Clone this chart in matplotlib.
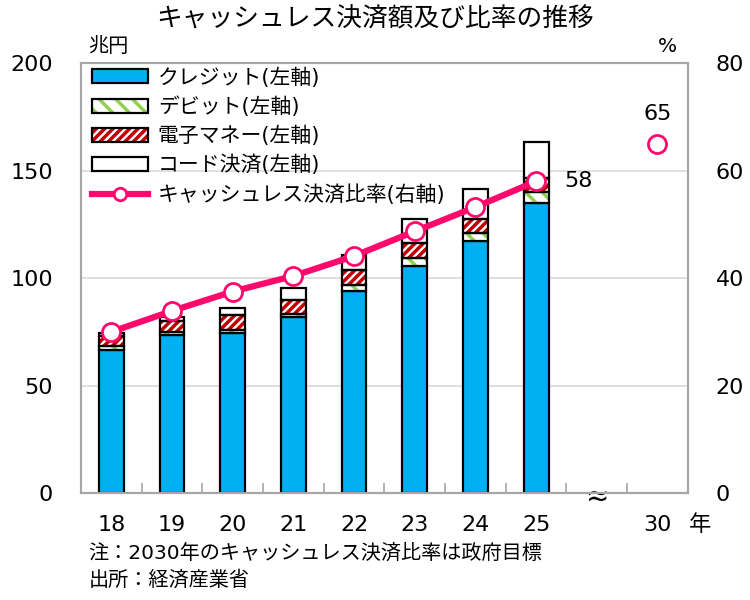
import matplotlib
matplotlib.use('Agg')
import matplotlib.pyplot as plt
import numpy as np
from matplotlib.patches import Patch
from matplotlib.lines import Line2D

plt.rcParams['font.family'] = ['DejaVu Sans', 'Noto Sans CJK JP']
plt.rcParams['hatch.linewidth'] = 2.5

# データ (兆円 / %)
years = ['18', '19', '20', '21', '22', '23', '24', '25']
credit = [66.8, 73.5, 74.3, 81.7, 94.1, 105.6, 117.2, 134.7]
debit = [1.5, 1.5, 1.5, 1.6, 2.6, 3.6, 3.9, 5.4]
emoney = [5.0, 5.1, 7.0, 6.5, 7.0, 6.9, 6.3, 6.3]
code = [1.4, 1.6, 3.1, 5.7, 7.0, 11.3, 13.9, 16.7]
ratio = [30.0, 33.9, 37.5, 40.4, 44.1, 48.7, 53.2, 58.0]
target_year = '30'
target_ratio = 65

blue = '#00B0F0'
green = '#92D050'
red = '#C00000'
pink = '#FF0A6C'
spine_c = '#A6A6A6'
grid_c = '#D9D9D9'

fig = plt.figure(figsize=(7.5, 6), dpi=100)
ax = fig.add_axes([0.108, 0.178, 0.809, 0.717])
ax2 = ax.twinx()

x = np.arange(len(years))
w = 0.41
credit = np.array(credit); debit = np.array(debit)
emoney = np.array(emoney); code = np.array(code)

b1 = credit
b2 = b1 + debit
b3 = b2 + emoney

ax.bar(x, credit, w, color=blue, edgecolor='black', lw=1.6, zorder=3)
# ハッチ(色付き)と黒枠を別々に描く
ax.bar(x, debit, w, bottom=b1, color='white', edgecolor=green, hatch='\\\\', lw=0, zorder=3)
ax.bar(x, debit, w, bottom=b1, color='none', edgecolor='black', lw=1.6, zorder=4)
ax.bar(x, emoney, w, bottom=b2, color='white', edgecolor=red, hatch='////', lw=0, zorder=3)
ax.bar(x, emoney, w, bottom=b2, color='none', edgecolor='black', lw=1.6, zorder=4)
ax.bar(x, code, w, bottom=b3, color='white', edgecolor='black', lw=1.6, zorder=3)

ax2.plot(x, ratio, '-o', color=pink, lw=4.5, ms=13, mfc='white', mec=pink, mew=2, zorder=5)
ax2.plot([9], [target_ratio], 'o', color=pink, ms=13, mfc='white', mec=pink, mew=2, zorder=5)
ax2.text(x[-1] + 0.7, ratio[-1], f'{ratio[-1]:.0f}', fontsize=16, ha='center', va='center')
ax2.text(9, target_ratio + 5.5, f'{target_ratio}', fontsize=16, ha='center', va='center')

ax.set_xlim(-0.5, 9.5)
ax.set_ylim(0, 200)
ax2.set_ylim(0, 80)
ax.set_yticks([0, 50, 100, 150, 200])
ax2.set_yticks([0, 20, 40, 60, 80])
ax.set_xticks(list(x) + [9])
ax.set_xticklabels(years + [target_year])
ax.set_xticks(np.arange(0.5, 9, 1), minor=True)
ax.tick_params(axis='x', which='major', length=0, pad=16, labelsize=16)
ax.tick_params(axis='x', which='minor', length=7, direction='in', color=spine_c, width=1.2)
ax.tick_params(axis='y', length=0, pad=20, labelsize=16)
ax2.tick_params(axis='y', length=0, pad=20, labelsize=16)

ax.grid(axis='y', color=grid_c, lw=1.2, zorder=0)
ax.set_axisbelow(True)
for a in (ax, ax2):
    for sp in a.spines.values():
        sp.set_color(spine_c)
        sp.set_linewidth(1.5)

# 省略記号
ax.text(8, -1.5, '≈', fontsize=20, ha='center', va='center', zorder=6)

handles = [
    Patch(facecolor=blue, edgecolor='black', lw=1.6),
    (Patch(facecolor='white', edgecolor=green, hatch='\\\\', lw=0),
     Patch(facecolor='none', edgecolor='black', lw=1.6)),
    (Patch(facecolor='white', edgecolor=red, hatch='////', lw=0),
     Patch(facecolor='none', edgecolor='black', lw=1.6)),
    Patch(facecolor='white', edgecolor='black', lw=1.6),
    Line2D([], [], color=pink, lw=4.5, marker='o', ms=9, mfc='white', mec=pink, mew=2),
]
labels = ['クレジット(左軸)', 'デビット(左軸)', '電子マネー(左軸)', 'コード決済(左軸)',
          'キャッシュレス決済比率(右軸)']
leg = ax2.legend(handles, labels, loc='upper left', bbox_to_anchor=(0.015, 0.995),
                 frameon=False, fontsize=15, handlelength=2.7, handleheight=0.65,
                 labelspacing=0.42, handletextpad=0.45, borderpad=0.1, borderaxespad=0)

fig.text(0.5, 0.968, 'キャッシュレス決済額及び比率の推移', fontsize=18.5,
         ha='center', va='center')
fig.text(0.118, 0.922, '兆円', fontsize=14.5, ha='left', va='center')
fig.text(0.877, 0.922, '%', fontsize=14.5, ha='left', va='center')
fig.text(0.918, 0.125, '年', fontsize=16, ha='left', va='center')
fig.text(0.118, 0.078, '注：2030年のキャッシュレス決済比率は政府目標', fontsize=14.5, ha='left', va='center')
fig.text(0.118, 0.033, '出所：経済産業省', fontsize=14.5, ha='left', va='center')

fig.savefig('out.png', dpi=100)
